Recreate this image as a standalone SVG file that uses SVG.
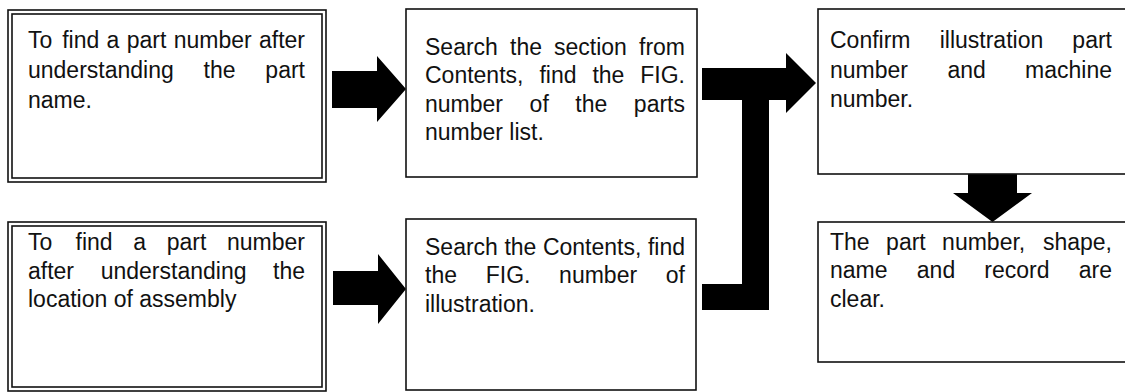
<svg xmlns="http://www.w3.org/2000/svg" width="1125" height="392" viewBox="0 0 1125 392">
<style>
.box{fill:#fff;stroke:#111;stroke-width:1.6}
.t{font-family:"Liberation Sans",Arial,Helvetica,sans-serif;font-size:23px;fill:#111}
.e{text-anchor:end}
.arr{fill:#000;stroke:none}
</style>
<rect width="1125" height="392" fill="#fff"/>
<g id="connectors">
<polygon class="arr" points="332,71 377,71 377,56 406,89 377,122 377,108 332,108"/>
<polygon class="arr" points="333,271 378,271 378,254 406,289 378,324 378,305 333,305"/>
<polygon class="arr" points="702,68 786,68 786,53 816,83 786,113 786,100 769,100 769,310 702,310 702,284 742,284 742,100 702,100"/>
<polygon class="arr" points="968,174 1017,174 1017,193 1032,193 992.5,222 953,193 968,193"/>
</g>
<g id="node1">
<rect class="box" x="8" y="10" width="318" height="172"/>
<rect class="box" x="12" y="14" width="310" height="164"/>
<text class="t" y="48"><tspan x="28">To</tspan><tspan x="62.2">find</tspan><tspan x="106.6">a</tspan><tspan x="126.7">part</tspan><tspan x="173.7">number</tspan><tspan x="305" class="e">after</tspan></text>
<text class="t" y="78"><tspan x="28">understanding</tspan><tspan x="203.6">the</tspan></text>
<text class="t e" x="305" y="78">part</text>
<text class="t" x="28" y="108">name.</text>
</g>
<g id="node2">
<rect class="box" x="406" y="9" width="291" height="168"/>
<text class="t" y="55"><tspan x="425">Search</tspan><tspan x="510">the</tspan><tspan x="554">section</tspan></text>
<text class="t e" x="685" y="55">from</text>
<text class="t" y="83"><tspan x="425">Contents,</tspan><tspan x="539.4">find</tspan><tspan x="592.4">the</tspan></text>
<text class="t e" x="685" y="83">FIG.</text>
<text class="t" y="112"><tspan x="425">number</tspan><tspan x="529.6">of</tspan><tspan x="575.3">the</tspan></text>
<text class="t e" x="685" y="112">parts</text>
<text class="t" x="425" y="140">number list.</text>
</g>
<g id="node3">
<rect class="box" x="818" y="9" width="320" height="165"/>
<text class="t" y="48"><tspan x="830">Confirm</tspan><tspan x="939.7">illustration</tspan></text>
<text class="t e" x="1112" y="48">part</text>
<text class="t" y="78"><tspan x="830">number</tspan><tspan x="947.4">and</tspan></text>
<text class="t e" x="1112" y="78">machine</text>
<text class="t" x="830" y="107">number.</text>
</g>
<g id="node4">
<rect class="box" x="818" y="222" width="320" height="140"/>
<text class="t" y="250"><tspan x="830">The</tspan><tspan x="886.1">part</tspan><tspan x="942.1">number,</tspan></text>
<text class="t e" x="1112" y="250">shape,</text>
<text class="t" y="278"><tspan x="830">name</tspan><tspan x="916.8">and</tspan><tspan x="984.3">record</tspan></text>
<text class="t e" x="1112" y="278">are</text>
<text class="t" x="830" y="307">clear.</text>
</g>
<g id="node5">
<rect class="box" x="8" y="222" width="318" height="169"/>
<rect class="box" x="12" y="226" width="310" height="161"/>
<text class="t" y="250"><tspan x="28">To</tspan><tspan x="75.5">find</tspan><tspan x="133.3">a</tspan><tspan x="166.7">part</tspan></text>
<text class="t e" x="305" y="250">number</text>
<text class="t" y="279"><tspan x="28">after</tspan><tspan x="100.7">understanding</tspan></text>
<text class="t e" x="305" y="279">the</text>
<text class="t" x="28" y="307">location of assembly</text>
</g>
<g id="node6">
<rect class="box" x="406" y="219" width="290" height="171"/>
<text class="t" y="255"><tspan x="425">Search</tspan><tspan x="504.4">the</tspan><tspan x="542.9">Contents,</tspan></text>
<text class="t e" x="685" y="255">find</text>
<text class="t" y="283"><tspan x="425">the</tspan><tspan x="485.7">FIG.</tspan><tspan x="559.1">number</tspan></text>
<text class="t e" x="685" y="283">of</text>
<text class="t" x="425" y="312">illustration.</text>
</g>
</svg>
